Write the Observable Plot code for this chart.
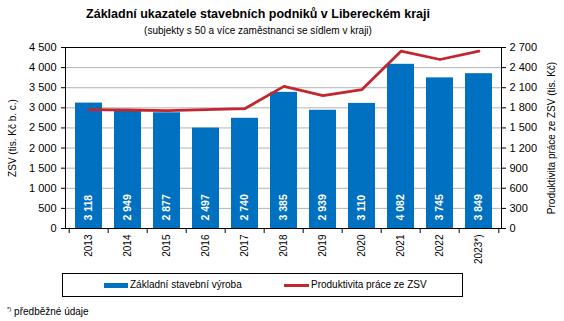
<!DOCTYPE html>
<html>
<head>
<meta charset="utf-8">
<script src="https://cdn.jsdelivr.net/npm/d3@7"></script>
<script src="https://cdn.jsdelivr.net/npm/@observablehq/plot@0.6"></script>
<style>
  html, body { margin: 0; padding: 0; background: #fff; }
  #wrap { position: relative; width: 564px; height: 321px; overflow: hidden; font-family: "Liberation Sans", Arial, sans-serif; color: #000; }
  .abs { position: absolute; white-space: nowrap; }
  #title { left: 0; width: 516px; top: 7px; text-align: center; font-size: 12.5px; line-height: 15px; font-weight: bold; }
  #subtitle { left: 0; width: 516px; top: 25px; text-align: center; font-size: 10px; line-height: 12px; }
  #chart { position: absolute; left: 0; top: 38px; }
  #legend { left: 62px; top: 273px; width: 399px; height: 22px; border: 1px solid #000; }
  .sw { position: absolute; }
  .lt { position: absolute; font-size: 10px; line-height: 12px; top: 5px; }
  #foot { left: 7px; top: 303px; font-size: 10px; line-height: 12px; }
  #foot sup { font-size: 6px; vertical-align: 4px; }
</style>
</head>
<body>
<div id="wrap">
  <div id="title" class="abs">Základní ukazatele stavebních podniků v Libereckém kraji</div>
  <div id="subtitle" class="abs">(subjekty s 50 a více zaměstnanci se sídlem v kraji)</div>
  <div id="chart"></div>
  <div id="legend" class="abs">
    <div class="sw" style="left:41px;top:9px;width:24px;height:5px;background:#0070c0"></div>
    <div class="lt" style="left:67px">Základní stavební výroba</div>
    <div class="sw" style="left:221px;top:10px;width:25px;height:3px;background:#c3262e"></div>
    <div class="lt" style="left:248px">Produktivita práce ze ZSV</div>
  </div>
  <div id="foot" class="abs"><sup>*)</sup> předběžné údaje</div>
</div>
<script>
const years = ["2013","2014","2015","2016","2017","2018","2019","2020","2021","2022","2023*)"];
const zsv = [3118, 2949, 2877, 2497, 2740, 3385, 2939, 3110, 4082, 3745, 3849];
const produktivita = [1774, 1768, 1759, 1774, 1789, 2120, 1983, 2073, 2645, 2521, 2645];
const leftTicks = [0, 500, 1000, 1500, 2000, 2500, 3000, 3500, 4000, 4500];
const leftMax = 4500;
const rightMax = 2700;

const data = years.map((y, i) => ({year: y, zsv: zsv[i], prod: produktivita[i]}));
const fmt = d => d3.format(",")(Math.round(d)).replace(/,/g, "\u00a0");
const ratio = leftMax / rightMax;

const width = 564, height = 230;
const mL = 65, mR = 63, mT = 9, mB = 40;
const step = (width - mL - mR) / years.length;

const chart = Plot.plot({
  width, height,
  marginLeft: mL, marginRight: mR, marginTop: mT, marginBottom: mB,
  style: {fontFamily: "Liberation Sans, Arial, sans-serif", color: "#000", background: "transparent"},
  x: {type: "band", domain: years, paddingInner: 0.32, paddingOuter: 0.16},
  y: {domain: [0, leftMax]},
  marks: [
    Plot.gridY(leftTicks.slice(1, -1), {stroke: "#b3b3b3", strokeOpacity: 1}),
    Plot.barY(data, {x: "year", y: "zsv", fill: "#0070c0"}),
    Plot.text(data, {x: "year", y: 0, text: d => fmt(d.zsv), rotate: -90, textAnchor: "start", dy: -8,
      fill: "white", fontWeight: "bold", fontSize: 10.5}),
    Plot.line(data, {x: "year", y: d => d.prod * ratio, stroke: "#c3262e", strokeWidth: 2.8}),
    Plot.frame({stroke: "#000"}),
    Plot.axisY({ticks: leftTicks, tickFormat: fmt, tickSize: 4, tickPadding: 5, fontSize: 11, label: null}),
    Plot.axisY({anchor: "right", ticks: leftTicks, tickFormat: d => fmt(d / ratio), tickSize: 4, tickPadding: 4, fontSize: 11, label: null}),
    Plot.axisX({tickSize: 0, tickRotate: -90, tickPadding: 6, fontSize: 10, label: null}),
    Plot.axisX({tickSize: 5, tickFormat: () => "", dx: -step / 2, label: null}),
    Plot.axisX({ticks: [years[years.length - 1]], tickSize: 5, tickFormat: () => "", dx: step / 2, label: null}),
    Plot.text(["ZSV (tis. Kč b. c.)"], {frameAnchor: "left", dx: -53, rotate: -90, fontSize: 10, textAnchor: "middle"}),
    Plot.text(["Produktivita práce ze ZSV (tis. Kč)"], {frameAnchor: "right", dx: 50, rotate: -90, fontSize: 10, textAnchor: "middle"})
  ]
});
document.getElementById("chart").appendChild(chart);
</script>
</body>
</html>
